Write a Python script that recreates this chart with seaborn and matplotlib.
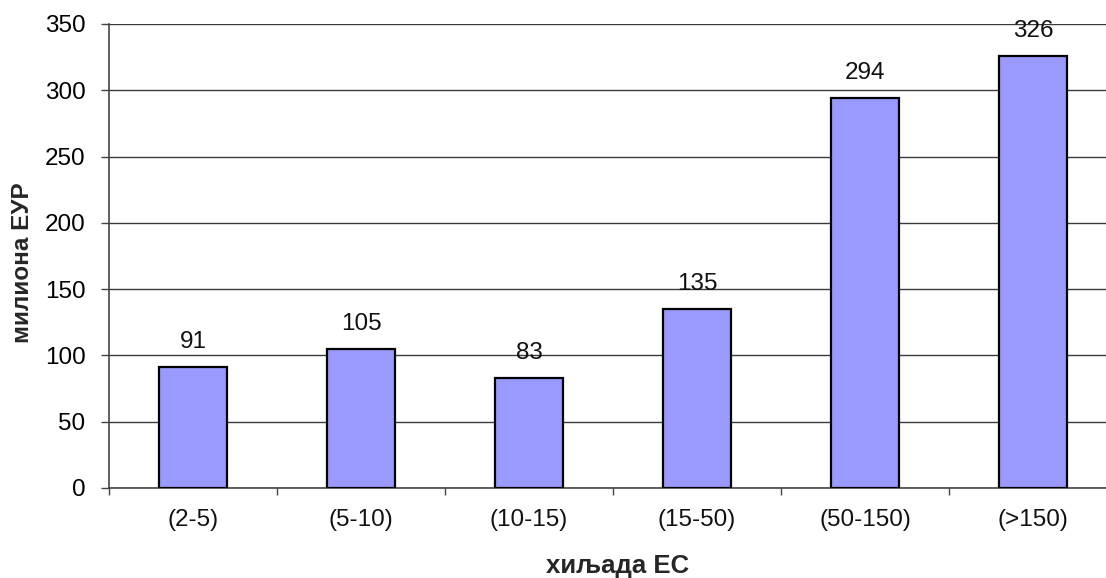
import matplotlib
matplotlib.use("Agg")
import matplotlib.pyplot as plt
import seaborn as sns
import pandas as pd
import numpy as np

categories = ["(2-5)", "(5-10)", "(10-15)", "(15-50)", "(50-150)", "(>150)"]
values = [91, 105, 83, 135, 294, 326]
y_ticks = [0, 50, 100, 150, 200, 250, 300, 350]

df = pd.DataFrame({"group": categories, "value": values})

sns.set_theme(style="white")
plt.rcParams["font.family"] = ["Liberation Sans", "DejaVu Sans"]

W, H, DPI = 1106, 578, 100
fig = plt.figure(figsize=(W / DPI, H / DPI), dpi=DPI)
left, bottom, top, span = 109, 488, 24, 1008
ax = fig.add_axes([left / W, 1 - bottom / H, span / W, (bottom - top) / H])

sns.barplot(data=df, x="group", y="value", color="#9999FF", saturation=1,
            width=0.4, edgecolor="black", linewidth=1.6, ax=ax, zorder=3)

ax.set_ylim(0, 350)
ax.set_xlim(-0.5, len(categories) - 0.5)
ax.set_yticks(y_ticks)
ax.yaxis.grid(True, color="#3a3a3a", linewidth=1.0, zorder=0)
ax.xaxis.grid(False)

for s in ["top", "right"]:
    ax.spines[s].set_visible(False)
for s in ["left", "bottom"]:
    ax.spines[s].set_color("#444444")
    ax.spines[s].set_linewidth(1.2)

ax.tick_params(axis="y", which="major", left=True, length=6, width=1.0,
               color="#444444", labelsize=17.5, pad=11, labelcolor="black")
ax.tick_params(axis="x", which="major", bottom=False, length=0,
               labelsize=17.5, pad=15, labelcolor="#111111")
ax.set_xticks(np.arange(-0.5, len(categories) + 0.5, 1), minor=True)
ax.tick_params(axis="x", which="minor", bottom=True, length=5, width=1.0,
               color="#444444")

for i, v in enumerate(values):
    ax.annotate(str(v), (i, v), xytext=(0, 10), textcoords="offset points",
                ha="center", va="bottom", fontsize=17.5, color="#111111")

ax.set_xlabel("хиљада ЕС", fontsize=18.5, fontweight="bold")
ax.set_ylabel("милиона ЕУР", fontsize=17.5, fontweight="bold")
ax.xaxis.set_label_coords((618 - left) / span, -(566 - bottom) / (bottom - top))
ax.xaxis.label.set_va("center")
ax.yaxis.set_label_coords((22 - left) / span, (bottom - 263) / (bottom - top))
ax.yaxis.label.set_va("center")

fig.savefig("out.png", dpi=DPI)
